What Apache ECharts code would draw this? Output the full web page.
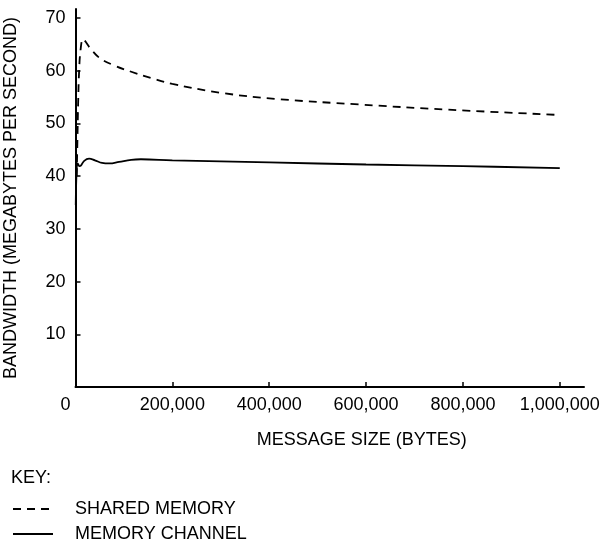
<!DOCTYPE html>
<html>
<head>
<meta charset="utf-8">
<script src="https://cdn.jsdelivr.net/npm/echarts@6/dist/echarts.min.js"></script>
<style>
  html, body { margin: 0; padding: 0; background: #fff; }
  #main { width: 601px; height: 543px; }
</style>
</head>
<body>
<div id="main"></div>
<script>
// message size (bytes) -> bandwidth (MB/s)
var sharedSize = [2500, 4000, 5500, 7500, 10500, 15500, 20000, 30000, 50000, 80000, 112000, 160000, 200000, 300000, 420000, 585000, 770000, 1000000];
var sharedBw   = [40, 47, 54, 60, 64, 66.0, 65.6, 64.3, 62.4, 61.0, 59.9, 58.5, 57.5, 55.8, 54.6, 53.6, 52.6, 51.6];
var channelSize = [500, 2500, 4500, 8000, 11000, 18000, 28000, 40000, 55000, 70000, 90000, 115000, 135000, 200000, 400000, 600000, 800000, 1000000];
var channelBw   = [34.5, 41.5, 42.4, 41.9, 42.0, 42.9, 43.3, 43.0, 42.5, 42.4, 42.7, 43.1, 43.2, 43.0, 42.6, 42.2, 41.9, 41.5];
var xTicks = [0, 200000, 400000, 600000, 800000, 1000000];
var yTicks = [10, 20, 30, 40, 50, 60, 70];

function pairs(xs, ys) {
  return xs.map(function (x, i) { return [x, ys[i]]; });
}

var font = 'Liberation Sans, Arial, Helvetica, sans-serif';
var chart = echarts.init(document.getElementById('main'));
chart.setOption({
  animation: false,
  title: {
    text: 'KEY:',
    left: 6,
    top: 464,
    textStyle: { fontFamily: font, fontSize: 18, fontWeight: 'normal', color: '#000' }
  },
  legend: {
    orient: 'vertical',
    left: 12,
    top: 500,
    padding: 0,
    itemWidth: 40,
    itemHeight: 14,
    itemGap: 7,
    itemStyle: { color: 'transparent', borderColor: 'transparent', borderWidth: 0, opacity: 0 },
    textStyle: { fontFamily: font, fontSize: 18, lineHeight: 18, color: '#000', padding: [0, 0, 0, 17] },
    data: ['SHARED MEMORY', 'MEMORY CHANNEL']
  },
  grid: { left: 75.5, right: 17, top: 9, bottom: 156, outerBoundsMode: 'none', containLabel: false },
  xAxis: {
    type: 'value',
    min: 0,
    max: 1050000,
    name: 'MESSAGE SIZE (BYTES)',
    nameLocation: 'middle',
    nameGap: 44,
    nameTextStyle: { fontFamily: font, fontSize: 18, color: '#000', padding: [0, 0, 0, 64] },
    axisLine: { lineStyle: { color: '#000', width: 2 } },
    axisTick: { inside: true, length: 5, lineStyle: { color: '#000', width: 1.5 }, customValues: xTicks },
    axisLabel: {
      customValues: xTicks,
      margin: 9,
      fontFamily: font,
      fontSize: 18,
      color: '#000',
      hideOverlap: false,
      formatter: function (v) {
        if (v === 0) return '{z|0}';
        return v.toLocaleString('en-US');
      },
      rich: { z: { fontFamily: font, fontSize: 18, color: '#000', padding: [0, 20, 0, 0] } }
    },
    splitLine: { show: false }
  },
  yAxis: {
    type: 'value',
    min: 0,
    max: 71.7,
    name: 'BANDWIDTH (MEGABYTES PER SECOND)',
    nameLocation: 'middle',
    nameGap: 55,
    nameTextStyle: { fontFamily: font, fontSize: 18, color: '#000' },
    axisLine: { show: true, lineStyle: { color: '#000', width: 2 } },
    axisTick: { show: true, inside: true, length: 5, lineStyle: { color: '#000', width: 1.5 }, customValues: yTicks },
    axisLabel: { customValues: yTicks, margin: 10, fontFamily: font, fontSize: 18, color: '#000' },
    splitLine: { show: false }
  },
  series: [{
    name: 'SHARED MEMORY',
    type: 'line',
    symbol: 'none',
    smooth: 0.4,
    lineStyle: { color: '#000', width: 1.8, type: [8, 6] },
    itemStyle: { color: '#000' },
    data: pairs(sharedSize, sharedBw)
  }, {
    name: 'MEMORY CHANNEL',
    type: 'line',
    symbol: 'none',
    smooth: 0.4,
    lineStyle: { color: '#000', width: 1.8 },
    itemStyle: { color: '#000' },
    data: pairs(channelSize, channelBw)
  }]
});
</script>
</body>
</html>
